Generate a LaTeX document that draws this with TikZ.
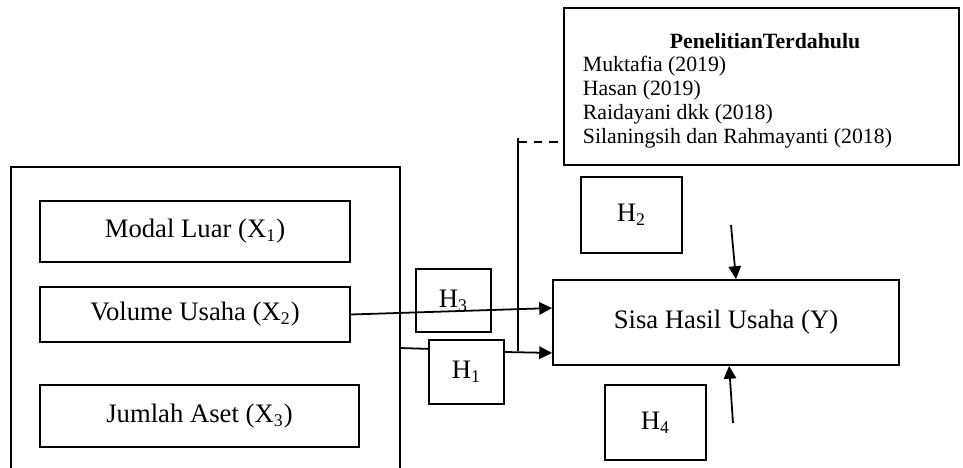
\documentclass[tikz,border=0pt]{standalone}
\usepackage{fontspec}
\setmainfont{Liberation Serif}
\usepackage{tikz}
\usetikzlibrary{arrows.meta, positioning}

\begin{document}
\begin{tikzpicture}[x=0.45pt, y=-0.45pt,
    every path/.style={line width=0.8pt},
    kotak/.style={draw, line width=0.8pt, inner sep=0pt, font=\fontsize{12}{14}\selectfont},
    panah/.style={-{Triangle[length=5.8pt, width=5.6pt]}}]
\useasboundingbox (0,0) rectangle (963,468);
% kotak variabel independen
\draw (11,468) -- (11,167) -- (400,167) -- (400,468);
\coordinate (luarKanan) at (400,348);
\node[kotak, minimum width=310*0.45pt, minimum height=61*0.45pt] (modal) at (195,231.5) {Modal Luar (X\textsubscript{1})};
\node[kotak, minimum width=310*0.45pt, minimum height=55*0.45pt] (volume) at (195,314.5) {Volume Usaha (X\textsubscript{2})};
\node[kotak, minimum width=319*0.45pt, minimum height=62*0.45pt] (aset) at (199.5,416) {Jumlah Aset (X\textsubscript{3})};
% hipotesis
\node[kotak, minimum width=75*0.45pt, minimum height=63*0.45pt] (h3) at (453.5,300.5) {H\textsubscript{3}};
\node[kotak, minimum width=75*0.45pt, minimum height=64*0.45pt] (h1) at (466.5,372) {H\textsubscript{1}};
\node[kotak, minimum width=101*0.45pt, minimum height=76*0.45pt] (h2) at (631.5,215) {H\textsubscript{2}};
\node[kotak, minimum width=101*0.45pt, minimum height=75*0.45pt] (h4) at (655.5,422.5) {H\textsubscript{4}};
% variabel dependen
\node[kotak, minimum width=346*0.45pt, minimum height=85*0.45pt] (shu) at (726,322.5) {Sisa Hasil Usaha (Y)};
% penelitian terdahulu
\node[kotak, minimum width=395*0.45pt, minimum height=157*0.45pt] (penelitian) at (761.5,86.5) {};
\node[font=\fontsize{9.8}{11}\selectfont\bfseries, inner sep=0pt] (judul) at (765,41) {PenelitianTerdahulu};
\node[font=\fontsize{9.8}{10.8}\selectfont, align=left, anchor=north west, inner sep=0pt] (daftar) at (582,55)
    {Muktafia (2019)\\Hasan (2019)\\Raidayani dkk (2018)\\Silaningsih dan Rahmayanti (2018)};
% garis penghubung
\coordinate (siku) at (518,142);
\coordinate (sikuBawah) at (518,351);
\draw[panah] (volume.east) -- ([yshift=6.5pt]shu.west);
\draw (luarKanan) -- ([yshift=10.4pt]h1.west);
\draw[panah] ([yshift=9pt]h1.east) -- ([yshift=-13.7pt]shu.west);
\draw ([yshift=1.8pt]siku) -- (sikuBawah);
\draw[dashed, dash pattern=on 4pt off 3pt] (siku) -- (siku -| penelitian.west);
\coordinate (dariH2) at (731,225);
\coordinate (dariH4) at (733,423);
\draw[panah] (dariH2) -- ([xshift=4.5pt]shu.north);
\draw[panah] (dariH4) -- ([xshift=1.4pt]shu.south);
\end{tikzpicture}
\end{document}
